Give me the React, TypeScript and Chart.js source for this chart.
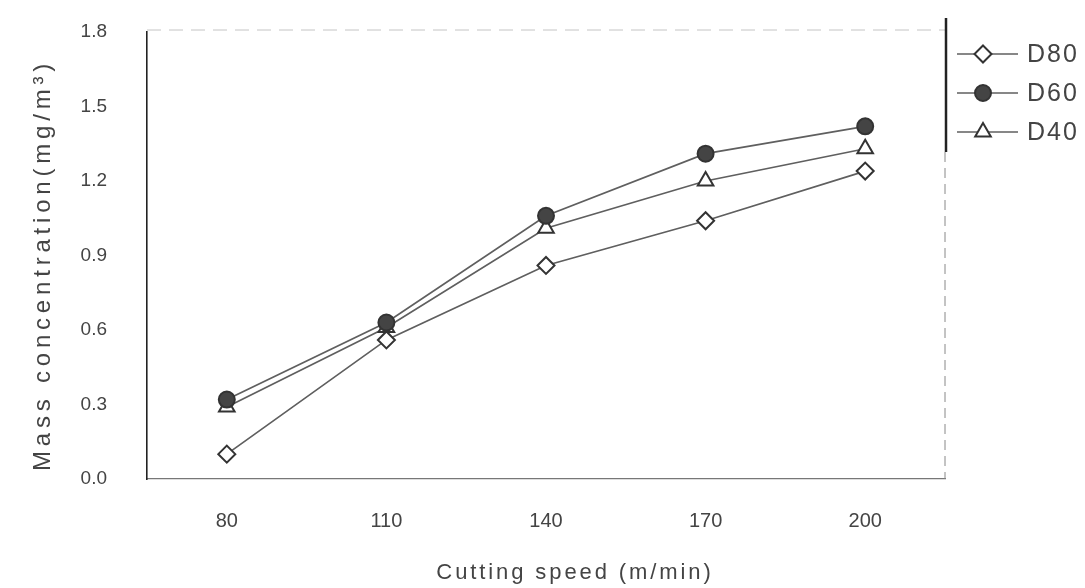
import React, { useEffect, useRef } from "react";
import { Chart, registerables } from "chart.js";

Chart.register(...registerables);

const categories = ["80", "110", "140", "170", "200"];
const d80 = [0.1, 0.56, 0.86, 1.04, 1.24];
const d60 = [0.32, 0.63, 1.06, 1.31, 1.42];
const d40 = [0.29, 0.61, 1.01, 1.2, 1.33];
const seriesNames = ["D80", "D60", "D40"];
const yTicks = [0, 0.3, 0.6, 0.9, 1.2, 1.5, 1.8];
const xTitle = "Cutting speed (m/min)";
const yTitle = "Mass concentration(mg/m\u00B3)";

const FONT = "'Liberation Sans', Arial, sans-serif";
const INK = "#444";
const LINE = "#5f5f5f";

function drawMarker(ctx: CanvasRenderingContext2D, style: string, r: number, x: number, y: number) {
  ctx.beginPath();
  if (style === "circle") {
    ctx.arc(x, y, r, 0, Math.PI * 2);
  } else if (style === "rectRot") {
    ctx.moveTo(x, y - r);
    ctx.lineTo(x + r, y);
    ctx.lineTo(x, y + r);
    ctx.lineTo(x - r, y);
    ctx.closePath();
  } else if (style === "triangle") {
    ctx.moveTo(x, y - r);
    ctx.lineTo(x + r * Math.cos(Math.PI / 6), y + r * Math.sin(Math.PI / 6));
    ctx.lineTo(x - r * Math.cos(Math.PI / 6), y + r * Math.sin(Math.PI / 6));
    ctx.closePath();
  }
  ctx.fill();
  ctx.stroke();
}

const framePlugin = {
  id: "frame",
  afterDraw(chart: any) {
    const { ctx, chartArea } = chart;
    const { left, right, top, bottom } = chartArea;
    ctx.save();
    // faint top border
    ctx.strokeStyle = "#c4c4c4";
    ctx.lineWidth = 1;
    ctx.setLineDash([14, 8]);
    ctx.beginPath();
    ctx.moveTo(left, top - 2);
    ctx.lineTo(right, top - 2);
    ctx.stroke();
    // right dashed border
    ctx.strokeStyle = "#888";
    ctx.setLineDash([10, 6]);
    ctx.beginPath();
    ctx.moveTo(right, 152);
    ctx.lineTo(right, bottom);
    ctx.stroke();
    ctx.setLineDash([]);
    // legend heavy border
    ctx.strokeStyle = "#222";
    ctx.lineWidth = 2.5;
    ctx.beginPath();
    ctx.moveTo(right + 1, 18);
    ctx.lineTo(right + 1, 152);
    ctx.stroke();
    // legend entries
    const ys = [54, 93, 132];
    chart.data.datasets.forEach((ds: any, i: number) => {
      const y = ys[i];
      ctx.strokeStyle = LINE;
      ctx.lineWidth = 1.6;
      ctx.beginPath();
      ctx.moveTo(957, y);
      ctx.lineTo(1018, y);
      ctx.stroke();
      ctx.fillStyle = ds.pointBackgroundColor;
      ctx.strokeStyle = ds.pointBorderColor;
      ctx.lineWidth = ds.pointBorderWidth;
      drawMarker(ctx, ds.pointStyle, ds.pointRadius, 983, y);
      ctx.fillStyle = INK;
      ctx.font = `25px ${FONT}`;
      (ctx as any).letterSpacing = "2px";
      ctx.textAlign = "left";
      ctx.textBaseline = "middle";
      ctx.fillText(ds.label, 1027, y + 1);
      (ctx as any).letterSpacing = "0px";
    });
    // axis titles
    ctx.fillStyle = INK;
    ctx.textAlign = "center";
    ctx.textBaseline = "middle";
    ctx.font = `22px ${FONT}`;
    (ctx as any).letterSpacing = "2.9px";
    ctx.fillText(xTitle, 575, 573);
    ctx.save();
    ctx.translate(43, 265);
    ctx.rotate(-Math.PI / 2);
    ctx.font = `24px ${FONT}`;
    (ctx as any).letterSpacing = "4.8px";
    ctx.fillText(yTitle, 0, 0);
    ctx.restore();
    (ctx as any).letterSpacing = "0px";
    ctx.restore();
  },
};

export default function App() {
  const ref = useRef<HTMLCanvasElement | null>(null);

  useEffect(() => {
    document.body.style.margin = "0";
    document.body.style.background = "#fff";
    if (!ref.current) return;
    const mk = (label: string, data: number[], style: string, fill: string, radius: number) => ({
      label,
      data,
      borderColor: LINE,
      borderWidth: 1.7,
      pointStyle: style,
      pointRadius: radius,
      pointBackgroundColor: fill,
      pointBorderColor: "#333",
      pointBorderWidth: 2,
      tension: 0,
    });
    const chart = new Chart(ref.current, {
      type: "line",
      data: {
        labels: categories,
        datasets: [
          mk(seriesNames[0], d80, "rectRot", "#fff", 8.5),
          mk(seriesNames[1], d60, "circle", "#444", 8),
          mk(seriesNames[2], d40, "triangle", "#fff", 9),
        ],
      },
      options: {
        responsive: false,
        animation: false,
        devicePixelRatio: 1,
        layout: { padding: { left: 0, top: 32, right: 140, bottom: 0 } },
        plugins: { legend: { display: false }, tooltip: { enabled: false } },
        scales: {
          x: {
            type: "category",
            offset: true,
            grid: { display: false, drawTicks: false },
            border: { display: true, color: "#777", width: 1.2, dash: [14, 6] },
            ticks: { color: INK, font: { family: FONT, size: 20 }, padding: 30 },
            title: { display: false },
            afterFit(scale: any) {
              scale.height = 109;
              scale.paddingLeft = 0;
              scale.paddingRight = 0;
            },
          },
          y: {
            type: "linear",
            min: 0,
            max: 1.8,
            grid: { display: false, drawTicks: false },
            border: { display: true, color: "#222", width: 1.6 },
            afterBuildTicks(scale: any) {
              scale.ticks = yTicks.map((v) => ({ value: v }));
            },
            ticks: {
              color: INK,
              font: { family: FONT, size: 19 },
              padding: 40,
              callback: (v: any) => Number(v).toFixed(1),
            },
            title: { display: false },
            afterFit(scale: any) {
              scale.width = 147;
              scale.paddingTop = 0;
              scale.paddingBottom = 0;
            },
          },
        },
      },
      plugins: [framePlugin],
    } as any);
    return () => chart.destroy();
  }, []);

  return (
    <div style={{ width: 1085, height: 588, background: "#fff" }}>
      <canvas ref={ref} width={1085} height={588} style={{ display: "block", width: 1085, height: 588 }} />
    </div>
  );
}
